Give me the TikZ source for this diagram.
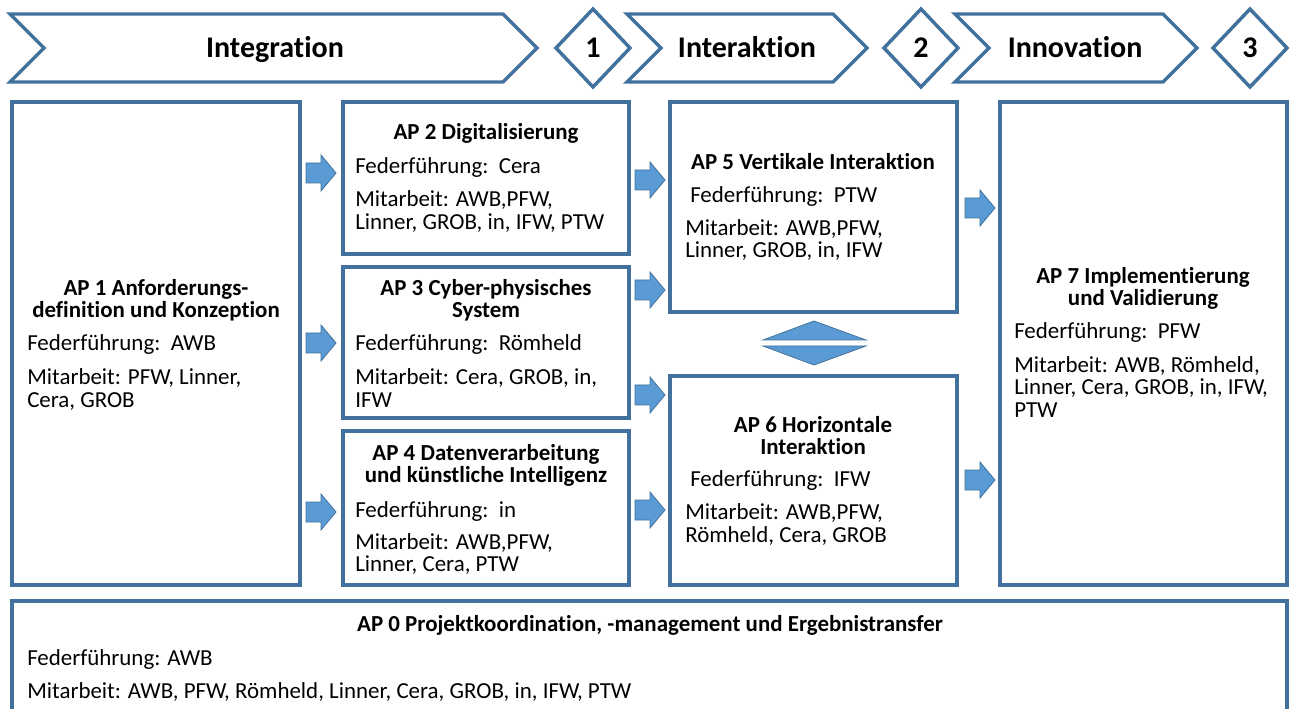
\documentclass[tikz,border=0pt]{standalone}
\usepackage{fontspec}
\setmainfont{Carlito}[Ligatures={NoCommon}]
\definecolor{bordc}{RGB}{65,113,156}
\definecolor{arrf}{RGB}{91,155,213}
\tikzset{
  box/.style={draw=bordc, line width=2.4pt},
  hdr/.style={draw=bordc, line width=2.6pt, line join=miter},
  hdrtext/.style={font=\fontsize{22.5}{24}\selectfont\bfseries, inner sep=0pt, anchor=base},
  body/.style={font=\fontsize{17.2}{17}\selectfont, inner sep=0pt, anchor=base west},
  ttl/.style={font=\fontsize{17.2}{17}\selectfont\bfseries, inner sep=0pt, anchor=base},
  barrow/.style={fill=arrf, draw=bordc, line width=0.6pt, line join=miter},
}
\begin{document}
\begin{tikzpicture}[x=0.75pt,y=-0.75pt]
\useasboundingbox (0,0) rectangle (1293,709);
\clip (0,0) rectangle (1293,709);
% header chevrons
\draw[hdr] (10,14) -- (503,14) -- (537,48) -- (503,82) -- (10,82) -- (44,48) -- cycle;
\draw[hdr] (627,14) -- (833,14) -- (867,48) -- (833,82) -- (627,82) -- (661,48) -- cycle;
\draw[hdr] (955,14) -- (1163,14) -- (1197,48) -- (1163,82) -- (955,82) -- (989,48) -- cycle;
\node[hdrtext] (hInt) at (275,58) {Integration};
\node[hdrtext] (hInter) at (747,58) {Interaktion};
\node[hdrtext] (hInno) at (1075,58) {Innovation};
% diamonds
\foreach \cx/\n [count=\i] in {593/1,921/2,1250/3}{
  \draw[hdr] (\cx,9) -- (\cx+37,48) -- (\cx,87) -- (\cx-37,48) -- cycle;
  \node[hdrtext] (d\i) at (\cx,58) {\n};
}
% boxes
\draw[box] (12,102) rectangle (300,585);
\draw[box] (343,102) rectangle (629,254);
\draw[box] (343,267) rectangle (629,418);
\draw[box] (343,431) rectangle (629,585);
\draw[box] (670,102) rectangle (957,312);
\draw[box] (670,376) rectangle (957,585);
\draw[box] (1000,102) rectangle (1287,585);
\draw[box] (12,601) rectangle (1287,730);
% block arrows
\foreach \cx/\cy in {321/173,321/343,321/512,650/180,650/290,650/395,650/510,980/208,980/480}{
  \draw[barrow, shift={(\cx,\cy)}] (-15,-10) -- (0,-10) -- (0,-18) -- (15,0) -- (0,18) -- (0,10) -- (-15,10) -- cycle;
}
% double arrow
\draw[barrow] (763,340) -- (814,321) -- (866,340) -- cycle;
\draw[barrow] (763,346) -- (814,365) -- (866,346) -- cycle;
% AP1
\node[ttl] (ap1a) at (156,296) {AP 1 Anforderungs-};
\node[ttl] (ap1b) at (156,318) {definition und Konzeption};
\node[body] (ap1f) at (27,351) {Federführung:\ \ AWB};
\node[body] (ap1m) at (27,385) {Mitarbeit: PFW, Linner,};
\node[body] (ap1n) at (27,407) {Cera, GROB};
% AP2
\node[ttl] (ap2a) at (486,140) {AP 2 Digitalisierung};
\node[body] (ap2f) at (355,174) {Federführung:\ \ Cera};
\node[body] (ap2m) at (355,207) {Mitarbeit: AWB,PFW,};
\node[body] (ap2n) at (355,230) {Linner, GROB, in, IFW, PTW};
% AP3
\node[ttl] (ap3a) at (486,296) {AP 3 Cyber-physisches};
\node[ttl] (ap3b) at (486,318) {System};
\node[body] (ap3f) at (355,351) {Federführung:\ \ Römheld};
\node[body] (ap3m) at (355,385) {Mitarbeit: Cera, GROB, in,};
\node[body] (ap3n) at (355,407) {IFW};
% AP4
\node[ttl] (ap4a) at (486,460) {AP 4 Datenverarbeitung};
\node[ttl] (ap4b) at (486,482) {und künstliche Intelligenz};
\node[body] (ap4f) at (355,517) {Federführung:\ \ in};
\node[body] (ap4m) at (355,549) {Mitarbeit: AWB,PFW,};
\node[body] (ap4n) at (355,571) {Linner, Cera, PTW};
% AP5
\node[ttl] (ap5a) at (813,170) {AP 5 Vertikale Interaktion};
\node[body] (ap5f) at (690,203) {Federführung:\ \ PTW};
\node[body] (ap5m) at (685,236) {Mitarbeit: AWB,PFW,};
\node[body] (ap5n) at (685,258) {Linner, GROB, in, IFW};
% AP6
\node[ttl] (ap6a) at (813,432) {AP 6 Horizontale};
\node[ttl] (ap6b) at (813,454) {Interaktion};
\node[body] (ap6f) at (690,486) {Federführung:\ \ IFW};
\node[body] (ap6m) at (685,519) {Mitarbeit: AWB,PFW,};
\node[body] (ap6n) at (685,542) {Römheld, Cera, GROB};
% AP7
\node[ttl] (ap7a) at (1143,284) {AP 7 Implementierung};
\node[ttl] (ap7b) at (1143,306) {und Validierung};
\node[body] (ap7f) at (1014,339) {Federführung:\ \ PFW};
\node[body] (ap7m) at (1014,373) {Mitarbeit: AWB, Römheld,};
\node[body] (ap7n) at (1014,395) {Linner, Cera, GROB, in, IFW,};
\node[body] (ap7o) at (1014,417) {PTW};
% AP0
\node[ttl] (ap0a) at (650,631) {AP 0 Projektkoordination, -management und Ergebnistransfer};
\node[body] (ap0f) at (27,665) {Federführung: AWB};
\node[body] (ap0m) at (27,698) {Mitarbeit: AWB, PFW, Römheld, Linner, Cera, GROB, in, IFW, PTW};
\end{tikzpicture}
\end{document}
